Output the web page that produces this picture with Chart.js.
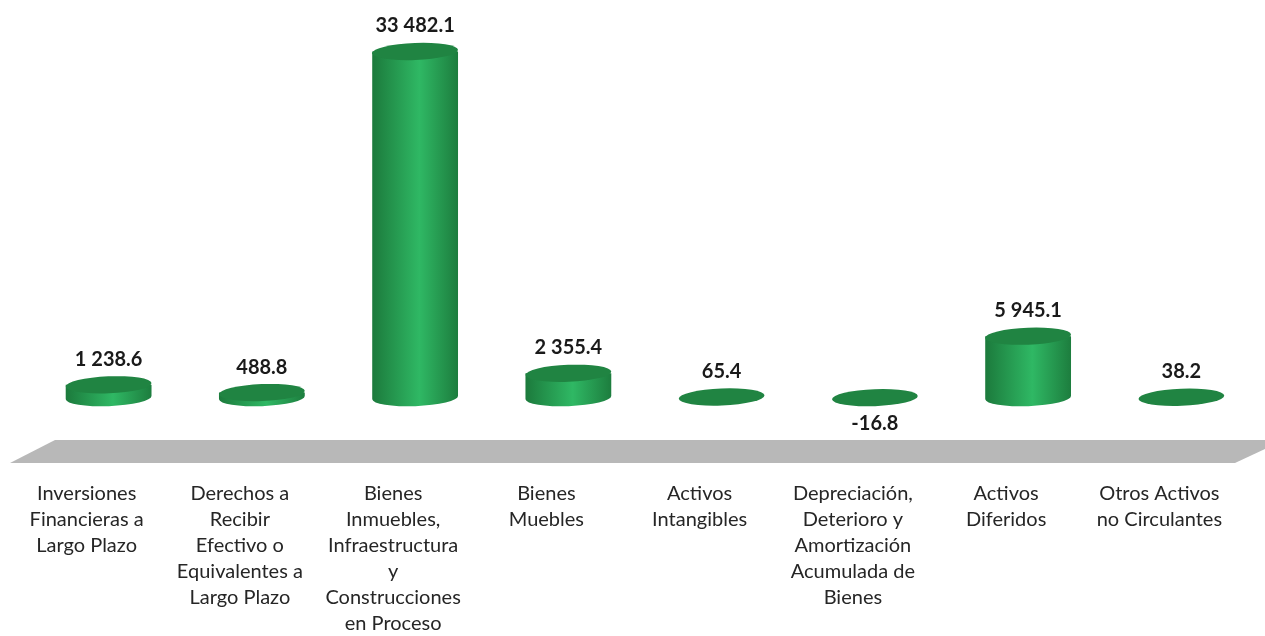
<!DOCTYPE html>
<html>
<head>
<meta charset="utf-8">
<script src="https://cdn.jsdelivr.net/npm/chart.js@4"></script>
<style>
  html, body { margin: 0; padding: 0; background: #fff; }
  #wrap { width: 1265px; height: 636px; position: relative; }
</style>
</head>
<body>
<div id="wrap"><canvas id="activosChart"></canvas></div>
<script>
// Activos no circulantes - cylinder bars
const categories = [
  ["Inversiones", "Financieras a", "Largo Plazo"],
  ["Derechos a", "Recibir", "Efectivo o", "Equivalentes a", "Largo Plazo"],
  ["Bienes", "Inmuebles,", "Infraestructura", "y", "Construcciones", "en Proceso"],
  ["Bienes", "Muebles"],
  ["Activos", "Intangibles"],
  ["Depreciación,", "Deterioro y", "Amortización", "Acumulada de", "Bienes"],
  ["Activos", "Diferidos"],
  ["Otros Activos", "no Circulantes"],
];
const values = [1238.6, 488.8, 33482.1, 2355.4, 65.4, -16.8, 5945.1, 38.2];

const FONT = "Lato, 'Open Sans', sans-serif";

function formatValue(v) {
  const parts = Math.abs(v).toFixed(1).split(".");
  const intPart = parts[0].replace(/\B(?=(\d{3})+(?!\d))/g, " ");
  return (v < 0 ? "-" : "") + intPart + "." + parts[1];
}

// gray floor under the bars
const floorPlugin = {
  id: "floor",
  beforeDatasetsDraw(chart) {
    const ctx = chart.ctx;
    const area = chart.chartArea;
    ctx.save();
    ctx.fillStyle = "#b8b8b8";
    ctx.beginPath();
    ctx.moveTo(area.left + 23, area.bottom - 30);
    ctx.lineTo(chart.width, area.bottom - 30);
    ctx.lineTo(chart.width, area.bottom - 21);
    ctx.lineTo(area.right - 23, area.bottom - 7);
    ctx.lineTo(area.left - 22, area.bottom - 7);
    ctx.closePath();
    ctx.fill();
    ctx.restore();
  },
};

// cylinders + value labels
const cylinderPlugin = {
  id: "cylinders",
  afterDatasetsDraw(chart) {
    const ctx = chart.ctx;
    const meta = chart.getDatasetMeta(0);
    const ry = 8.5;
    const tilt = -0.04;
    meta.data.forEach((bar, i) => {
      const { x, y, base, width } = bar.getProps(["x", "y", "base", "width"]);
      const rx = width / 2;
      const top = Math.min(y, base);
      const bottom = Math.max(y, base);
      ctx.save();
      if (bottom - top > 2) {
        const grad = ctx.createLinearGradient(x - rx, 0, x + rx, 0);
        grad.addColorStop(0, "#1c7a3c");
        grad.addColorStop(0.55, "#2fb864");
        grad.addColorStop(1, "#1d7d3e");
        ctx.fillStyle = grad;
        ctx.beginPath();
        ctx.moveTo(x - rx, top);
        ctx.lineTo(x - rx, bottom);
        ctx.ellipse(x, bottom, rx, ry, tilt, Math.PI, 0, true);
        ctx.lineTo(x + rx, top);
        ctx.closePath();
        ctx.fill();
      }
      ctx.fillStyle = "#208442";
      ctx.beginPath();
      ctx.ellipse(x, top, rx, ry, tilt, 0, Math.PI * 2);
      ctx.fill();

      // value label
      ctx.font = "bold 20px " + FONT;
      ctx.fillStyle = "#1a1a1a";
      ctx.textAlign = "center";
      ctx.textBaseline = "middle";
      const v = values[i];
      const ly = v >= 0 ? top - ry - 17 : bottom + 26;
      ctx.fillText(formatValue(v), x, ly);
      ctx.restore();
    });
  },
};

new Chart(document.getElementById("activosChart"), {
  type: "bar",
  data: {
    labels: categories,
    datasets: [
      {
        data: values,
        backgroundColor: "rgba(0,0,0,0)",
        borderWidth: 0,
        barPercentage: 0.56,
        categoryPercentage: 1,
      },
    ],
  },
  options: {
    responsive: true,
    maintainAspectRatio: false,
    animation: false,
    layout: { padding: { left: 32, right: 7, top: 10, bottom: 0 } },
    plugins: {
      legend: { display: false },
      tooltip: { enabled: false },
    },
    scales: {
      x: {
        grid: { display: false },
        border: { display: false },
        afterFit(scale) {
          scale.height = 166;
        },
        ticks: {
          autoSkip: false,
          maxRotation: 0,
          minRotation: 0,
          padding: 3,
          labelOffset: -22,
          color: "#262626",
          font: { family: FONT, size: 20, lineHeight: 1.3 },
        },
      },
      y: {
        display: false,
        min: -7000,
        max: 37500,
      },
    },
  },
  plugins: [floorPlugin, cylinderPlugin],
});
</script>
</body>
</html>
